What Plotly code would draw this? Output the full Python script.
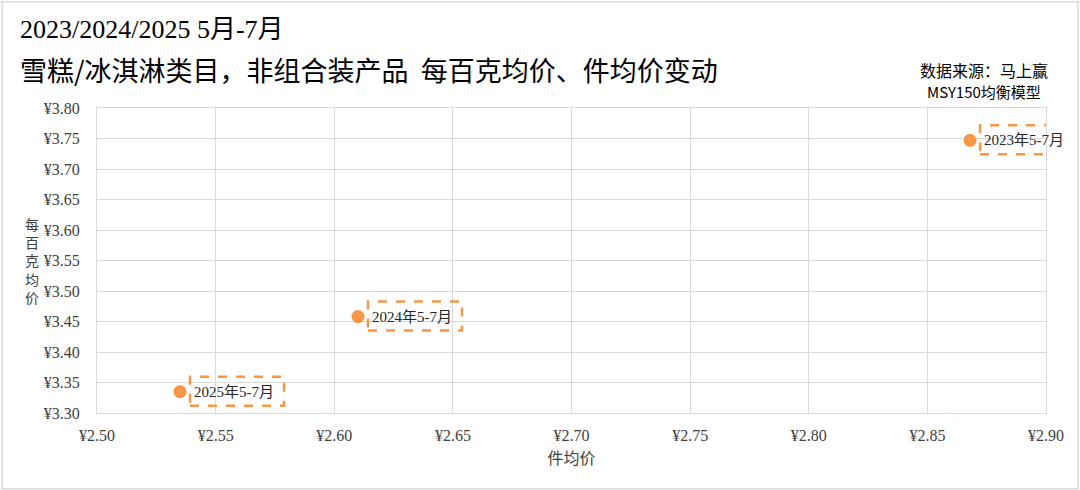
import plotly.graph_objects as go

periods = ["2025年5-7月", "2024年5-7月", "2023年5-7月"]
unit_price = [2.535, 2.610, 2.868]       # 件均价
per100g_price = [3.335, 3.458, 3.747]    # 每百克均价

ORANGE = "#F79646"
SERIF = "Liberation Serif, Noto Sans CJK SC, serif"
CJK = "Noto Sans CJK SC, Liberation Serif, serif"

fig = go.Figure()
fig.add_trace(go.Scatter(
    x=unit_price, y=per100g_price, mode="markers",
    marker=dict(size=13, color=ORANGE), hoverinfo="skip", showlegend=False,
))

for x, y, t in zip(unit_price, per100g_price, periods):
    fig.add_annotation(x=x, y=y, xref="x", yref="y", text=t, showarrow=False,
                       xanchor="left", yanchor="middle", xshift=12, yshift=0,
                       font=dict(family=SERIF, size=15, color="#262626"))
    fig.add_shape(type="rect", xref="x", yref="y", xsizemode="pixel", ysizemode="pixel",
                  xanchor=x, yanchor=y, x0=10, x1=104, y0=-14, y1=15,
                  line=dict(color=ORANGE, width=2.5, dash="dash"), fillcolor="rgba(0,0,0,0)")

# outer frame
fig.add_shape(type="rect", xref="paper", yref="paper", x0=-0.1, x1=1.0337, y0=-0.248, y1=1.348,
              line=dict(color="#d9d9d9", width=1.5), layer="below")

fig.add_annotation(xref="paper", yref="paper", x=-0.083, y=1.258, xanchor="left", yanchor="middle",
                   text="2023/2024/2025 5月-7月", showarrow=False,
                   font=dict(family=SERIF, size=26, color="#000000"))
fig.add_annotation(xref="paper", yref="paper", x=-0.083, y=1.125, xanchor="left", yanchor="middle",
                   text="雪糕/冰淇淋类目，非组合装产品  每百克均价、件均价变动", showarrow=False,
                   font=dict(family=CJK, size=27, color="#000000"))
fig.add_annotation(xref="paper", yref="paper", x=1.004, y=1.125, xanchor="right", yanchor="middle",
                   text="数据来源：马上赢", showarrow=False,
                   font=dict(family=CJK, size=16, color="#000000"))
fig.add_annotation(xref="paper", yref="paper", x=0.997, y=1.055, xanchor="right", yanchor="middle",
                   text="MSY150均衡模型", showarrow=False,
                   font=dict(family=CJK, size=15, color="#000000"))
fig.add_annotation(xref="paper", yref="paper", x=-0.069, y=0.50, xanchor="center", yanchor="middle",
                   text="每<br>百<br>克<br>均<br>价", showarrow=False,
                   font=dict(family=CJK, size=14, color="#404040"))

fig.update_layout(
    width=1080, height=490,
    margin=dict(l=97, r=34, t=108, b=77),
    paper_bgcolor="white", plot_bgcolor="white",
    xaxis=dict(range=[2.50, 2.90], dtick=0.05, tick0=2.5, tickformat=".2f", tickprefix="¥",
               showgrid=True, gridcolor="#d9d9d9", gridwidth=1, zeroline=False,
               showline=True, linecolor="#d9d9d9", mirror=True, ticks="", ticklen=0,
               ticklabelstandoff=8,
               tickfont=dict(family=SERIF, size=16, color="#404040"),
               title=dict(text="件均价", font=dict(family=CJK, size=16, color="#404040"), standoff=9)),
    yaxis=dict(range=[3.30, 3.80], dtick=0.05, tick0=3.3, tickformat=".2f", tickprefix="¥",
               showgrid=True, gridcolor="#d9d9d9", gridwidth=1, zeroline=False,
               showline=True, linecolor="#d9d9d9", mirror=True, ticks="", ticklen=0,
               ticklabelstandoff=13,
               tickfont=dict(family=SERIF, size=16, color="#404040")),
)

fig.write_html("out.html", config={"displayModeBar": False},
               post_script="document.body.style.margin='0';document.body.style.overflow='hidden';")
